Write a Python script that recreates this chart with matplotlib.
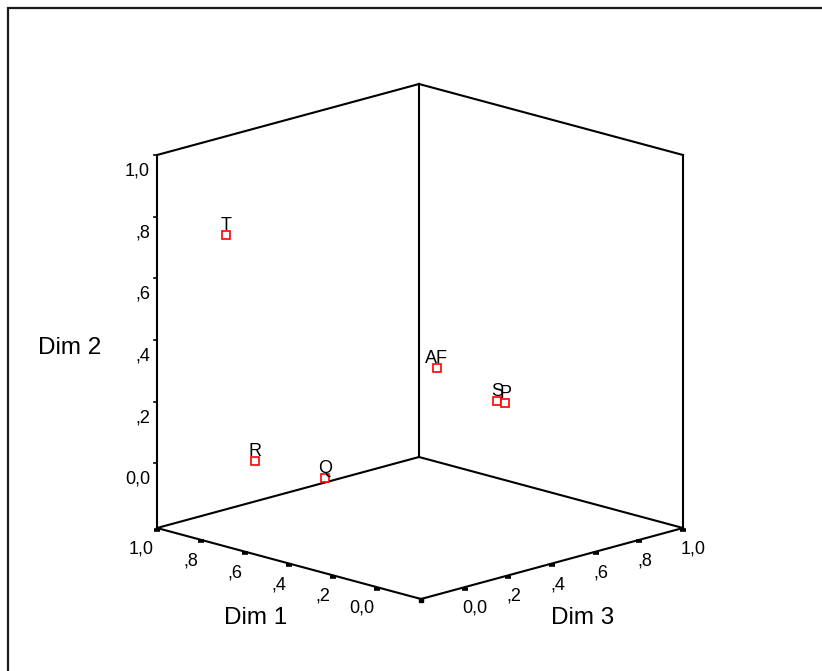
import matplotlib
matplotlib.use("Agg")
import matplotlib.pyplot as plt

plt.rcParams['font.family'] = ['Liberation Sans', 'DejaVu Sans']

# Object coordinates in the three-dimensional solution
labels = ["T", "R", "Q", "AF", "S", "P"]
dim1 = [0.843, 0.658, 0.676, 0.451, 0.283, 0.265]
dim2 = [0.742, 0.054, -0.070, 0.275, 0.178, 0.172]
dim3 = [-0.043, -0.098, 0.244, 0.529, 0.637, 0.655]

tick_values = [0.0, 0.2, 0.4, 0.6, 0.8, 1.0]
tick_labels = ["0,0", ",2", ",4", ",6", ",8", "1,0"]
axis_titles = ["Dim 1", "Dim 2", "Dim 3"]

# Axis ranges of the cube
D1_LIM = (-0.2, 1.0)
D2_LIM = (-0.21, 1.0)
D3_LIM = (-0.2, 1.0)

# Oblique projection of the cube onto the canvas (pixel units)
ORIGIN = (421.0, 599.0)          # front-bottom corner (Dim1 min, Dim3 min)
E1 = (-264.0, -71.0)             # full Dim 1 range
E2 = (0.0, -373.0)               # full Dim 2 range
E3 = (262.0, -71.0)              # full Dim 3 range


def proj(d1, d2, d3):
    a = (d1 - D1_LIM[0]) / (D1_LIM[1] - D1_LIM[0])
    b = (d2 - D2_LIM[0]) / (D2_LIM[1] - D2_LIM[0])
    c = (d3 - D3_LIM[0]) / (D3_LIM[1] - D3_LIM[0])
    x = ORIGIN[0] + a * E1[0] + b * E2[0] + c * E3[0]
    y = ORIGIN[1] + a * E1[1] + b * E2[1] + c * E3[1]
    return x, y


W, H = 822, 671
fig = plt.figure(figsize=(W / 100, H / 100), dpi=100)
ax = fig.add_axes([0, 0, 1, 1])
ax.set_xlim(0, W)
ax.set_ylim(H, 0)
ax.axis("off")

# outer chart frame
ax.plot([8, 8, W + 5], [H + 5, 8, 8], color="#1a1a1a", lw=1.6,
        solid_joinstyle="miter", clip_on=False)

LW = 1.5
lo1, hi1 = D1_LIM
lo2, hi2 = D2_LIM
lo3, hi3 = D3_LIM


def edge(p, q):
    x0, y0 = proj(*p)
    x1, y1 = proj(*q)
    ax.plot([x0, x1], [y0, y1], color="black", lw=LW, solid_capstyle="projecting")


# floor
edge((lo1, lo2, lo3), (hi1, lo2, lo3))
edge((lo1, lo2, lo3), (lo1, lo2, hi3))
edge((hi1, lo2, lo3), (hi1, lo2, hi3))
edge((lo1, lo2, hi3), (hi1, lo2, hi3))
# back walls
edge((hi1, lo2, lo3), (hi1, hi2, lo3))
edge((hi1, lo2, hi3), (hi1, hi2, hi3))
edge((lo1, lo2, hi3), (lo1, hi2, hi3))
edge((hi1, hi2, lo3), (hi1, hi2, hi3))
edge((lo1, hi2, hi3), (hi1, hi2, hi3))

TICK_FS = 13

# Dim 1 axis (front-left bottom edge)
for v, t in zip(tick_values, tick_labels):
    x, y = proj(v, lo2, lo3)
    ax.plot([x], [y + 1.5], marker="_", ms=5, mew=2.6, color="black")
    ax.text(x - 3, y + 21, t, ha="right", va="center", fontsize=TICK_FS)
x, y = proj(lo1, lo2, lo3)
ax.plot([x], [y + 1], marker="s", ms=3, color="black")

# Dim 3 axis (front-right bottom edge)
for v, t in zip(tick_values, tick_labels):
    x, y = proj(lo1, lo2, v)
    ax.plot([x], [y + 1.5], marker="_", ms=5, mew=2.6, color="black")
    ax.text(x - 2, y + 21, t, ha="left", va="center", fontsize=TICK_FS)

# Dim 2 axis (left vertical edge)
for v, t in zip(tick_values, tick_labels):
    x, y = proj(hi1, v, lo3)
    ax.plot([x - 3, x], [y, y], color="black", lw=1.2)
    ax.text(x - 7, y + 16, t, ha="right", va="center", fontsize=TICK_FS)

# axis titles
TITLE_FS = 17.5
x, y = proj((lo1 + hi1) / 2, lo2, lo3)
ax.text(x - 33, y + 55, axis_titles[0], ha="center", va="center", fontsize=TITLE_FS)
x, y = proj(lo1, lo2, (lo3 + hi3) / 2)
ax.text(x + 31, y + 55, axis_titles[2], ha="center", va="center", fontsize=TITLE_FS)
x, y = proj(hi1, (lo2 + hi2) / 2, lo3)
ax.text(x - 87, y + 6, axis_titles[1], ha="center", va="center", fontsize=TITLE_FS)

# data points with their labels
for lab, a, b, c in zip(labels, dim1, dim2, dim3):
    x, y = proj(a, b, c)
    ax.plot([x], [y], marker="s", ms=6.2, mfc="white", mec="red", mew=1.2)
    ax.text(x, y - 5, lab, ha="center", va="baseline", fontsize=13)

fig.savefig("out.png", dpi=100, facecolor="white")
